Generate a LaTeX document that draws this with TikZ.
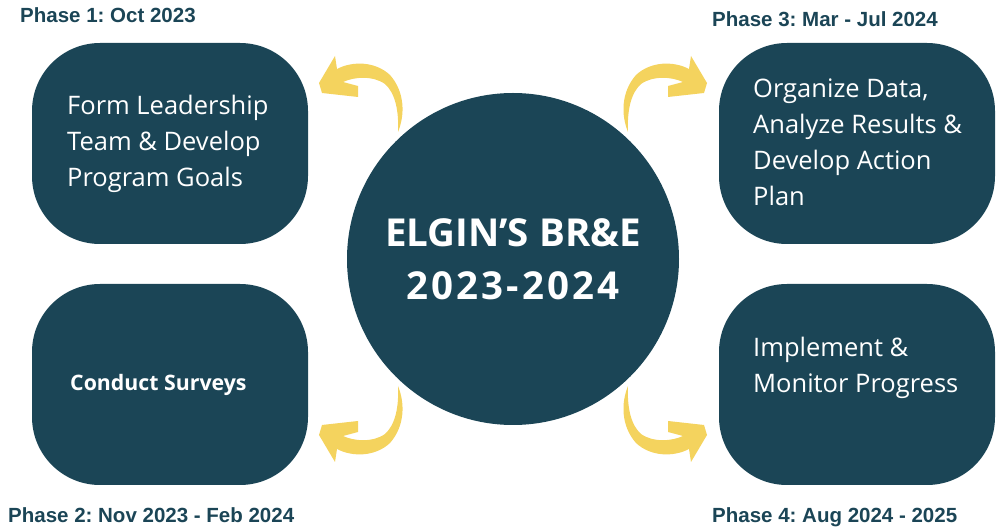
\documentclass[tikz,border=0pt]{standalone}
\usepackage{fontspec}
\setmainfont{Open Sans}
\newfontfamily\phasefont{Liberation Sans}
\definecolor{tealbox}{HTML}{1B4556}
\definecolor{arrowc}{HTML}{F4D35E}
\frenchspacing
\begin{document}
\begin{tikzpicture}[x=1pt,y=-1pt,
  box/.style={fill=tealbox, rounded corners=68pt, minimum width=276pt, minimum height=201pt, inner sep=0},
  boxtext/.style={anchor=base west, align=left, text=white, inner sep=0, font=\fontsize{25.5}{36}\selectfont},
  phase/.style={anchor=base west, inner sep=0, text=tealbox, font=\phasefont\bfseries\fontsize{20.5}{24}\selectfont},
  bentarrow/.style={fill=arrowc, insert path={(319,83) -- (335,56) -- (337,69) .. controls (352,61) and (375,61) .. (390,75) .. controls (405,92) and (405,115) .. (398,132) .. controls (399,110) and (395,93) .. (385,84) .. controls (372,75) and (354,77) .. (343,82) -- (358,86) -- (358,97) -- (322,93) -- cycle}}
]
\useasboundingbox (0,0) rectangle (997,529);
\node[box] (b1) at (170,143.5) {};
\node[box] (b2) at (170,384.5) {};
\node[box] (b3) at (857,143.5) {};
\node[box] (b4) at (857,384.5) {};
\node[circle, fill=tealbox, minimum size=332pt, inner sep=0] (c) at (513,259) {};
\node[anchor=base, align=center, text=white, inner sep=0, font=\bfseries\fontsize{38.5}{53}\selectfont] (ct) at (513,300) {ELGIN’S BR\&E\\{\addfontfeature{LetterSpace=8}2023-2024}};
\node[boxtext] (t1) at (67,187) {Form Leadership\\Team \& Develop\\Program Goals};
\node[anchor=base west, inner sep=0, text=white, font=\bfseries\fontsize{21.3}{24}\selectfont] (t2) at (70,391) {Conduct Surveys};
\node[boxtext] (t3) at (753,205.5) {Organize Data,\\Analyze Results \&\\Develop Action\\Plan};
\node[boxtext] (t4) at (753,392.5) {Implement \&\\Monitor Progress};
\node[phase] (p1) at (20,23) {Phase 1: Oct 2023};
\node[phase] (p3) at (712,27) {Phase 3: Mar - Jul 2024};
\node[phase] (p2) at (8,522) {Phase 2: Nov 2023 - Feb 2024};
\node[phase] (p4) at (712,522) {Phase 4: Aug 2024 - 2025};
\path[bentarrow];
\begin{scope}[shift={(1026,0)}, xscale=-1] \path[bentarrow]; \end{scope}
\begin{scope}[shift={(0,518)}, yscale=-1] \path[bentarrow]; \end{scope}
\begin{scope}[shift={(1026,518)}, scale=-1] \path[bentarrow]; \end{scope}
\end{tikzpicture}
\end{document}
